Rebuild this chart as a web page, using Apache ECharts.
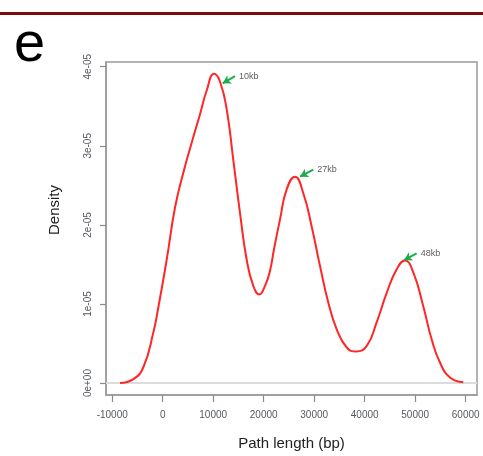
<!DOCTYPE html>
<html>
<head>
<meta charset="utf-8">
<script src="https://cdn.jsdelivr.net/npm/echarts@6/dist/echarts.min.js"></script>
<style>
html,body{margin:0;padding:0;background:#fff;}
#main{width:483px;height:456px;}
</style>
</head>
<body>
<div id="main"></div>
<script>
// Density curve samples (path length in bp, density)
var pathLength = [-8450,-5820,-3840,-1860,-870,790,2440,4080,5740,7390,8710,10160,11350,12670,13980,15310,16630,17940,19130,20260,21250,22000,23230,24550,26200,27840,29500,31150,32790,34460,36440,38280,40400,42380,44360,46340,47980,49620,51600,53270,54910,56890,59520];
var density = [0,0.05e-5,0.2e-5,0.64e-5,0.955e-5,1.56e-5,2.22e-5,2.66e-5,3.04e-5,3.40e-5,3.70e-5,3.91e-5,3.81e-5,3.46e-5,2.82e-5,2.15e-5,1.56e-5,1.23e-5,1.12e-5,1.23e-5,1.42e-5,1.68e-5,2.07e-5,2.45e-5,2.61e-5,2.40e-5,1.98e-5,1.48e-5,1.02e-5,0.68e-5,0.45e-5,0.40e-5,0.47e-5,0.77e-5,1.14e-5,1.44e-5,1.55e-5,1.40e-5,0.97e-5,0.55e-5,0.26e-5,0.07e-5,0.01e-5];

// Tick values and labels
var xTicks = [-10000,0,10000,20000,30000,40000,50000,60000];
var yTicks = [0,1e-5,2e-5,3e-5,4e-5];
var yTickLabels = ['0e+00','1e-05','2e-05','3e-05','4e-05'];

// Peak annotations: label, arrow tail (x,y), arrow tip (x,y) in data units
var peakLabels = ['10kb','27kb','48kb'];
var arrowTailX = [14320,29820,50300];
var arrowTailY = [3.88e-5,2.70e-5,1.64e-5];
var arrowTipX = [11880,27190,47780];
var arrowTipY = [3.79e-5,2.61e-5,1.555e-5];

var curve = pathLength.map(function(x,i){return [x,density[i]];});
var annPoints = peakLabels.map(function(l,i){return {name:l,value:[arrowTailX[i],arrowTailY[i]]};});
var arrows = peakLabels.map(function(l,i){
  return [{coord:[arrowTailX[i],arrowTailY[i]],symbol:'none'},{coord:[arrowTipX[i],arrowTipY[i]],symbol:'arrow'}];
});

var chart = echarts.init(document.getElementById('main'));
var font = 'Liberation Sans, Arial, sans-serif';
chart.setOption({
  animation:false,
  backgroundColor:'#fff',
  grid:{left:106,top:62,right:6,bottom:60,show:true,borderColor:'#9a9a9a',borderWidth:1.5,backgroundColor:'transparent'},
  xAxis:{
    type:'value',min:-11230,max:62240,
    name:'Path length (bp)',nameLocation:'middle',nameGap:41,
    nameTextStyle:{fontFamily:font,fontSize:15,color:'#222'},
    axisLine:{show:true,onZero:false,lineStyle:{color:'#9a9a9a',width:1.5}},
    axisTick:{show:true,customValues:xTicks,length:7,lineStyle:{color:'#8a8a8a',width:1.2}},
    axisLabel:{customValues:xTicks,margin:15,fontFamily:font,fontSize:10,color:'#555a60',
      formatter:function(v){return String(Math.round(v));}},
    splitLine:{show:false}
  },
  yAxis:{
    type:'value',min:-1.51e-6,max:4.06e-5,
    axisLine:{show:true,onZero:false,lineStyle:{color:'#9a9a9a',width:1.5}},
    axisTick:{show:true,customValues:yTicks,length:6,lineStyle:{color:'#8a8a8a',width:1.2}},
    axisLabel:{customValues:yTicks,rotate:90,margin:13,fontFamily:font,fontSize:10,color:'#555a60',
      formatter:function(v){
        for(var i=0;i<yTicks.length;i++){if(Math.abs(v-yTicks[i])<1e-9)return yTickLabels[i];}
        return '';
      }},
    splitLine:{show:false}
  },
  series:[
    {
      type:'line',data:curve,smooth:0.5,showSymbol:false,
      lineStyle:{color:'#ff2626',width:2},
      z:3,
      markLine:{silent:true,symbol:'none',label:{show:false},
        lineStyle:{color:'#dcdcdc',width:2,type:'solid'},
        data:[{yAxis:0}],z:1}
    },
    {
      type:'scatter',data:annPoints,symbolSize:0,silent:true,
      label:{show:true,position:'right',distance:4,formatter:'{b}',fontFamily:font,fontSize:9,color:'#333'},
      markLine:{silent:true,symbolSize:[7,8],label:{show:false},
        lineStyle:{color:'#1aae4a',width:2,type:'solid'},
        data:arrows}
    }
  ],
  graphic:[
    {type:'line',shape:{x1:0,y1:13.5,x2:483,y2:13.5},style:{stroke:'#7b0c0c',lineWidth:3}},
    {type:'text',x:14,y:46,style:{text:'e',font:'56px '+font,fill:'#000',verticalAlign:'middle'}},
    {type:'text',x:55,y:210,rotation:Math.PI/2,style:{text:'Density',font:'15px '+font,fill:'#222',align:'center',verticalAlign:'middle'}}
  ]
});
</script>
</body>
</html>
